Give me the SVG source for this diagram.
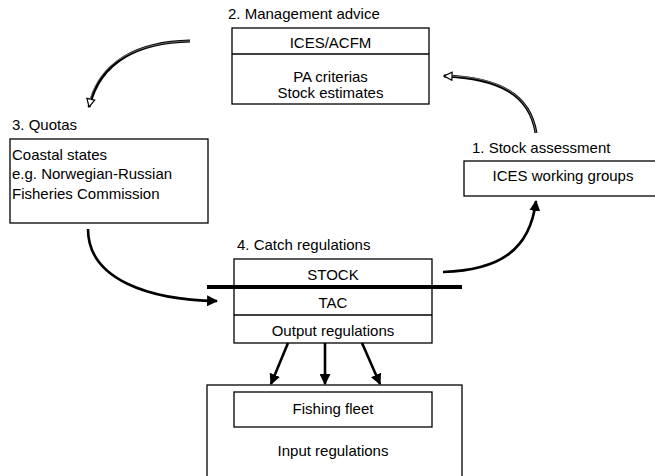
<svg xmlns="http://www.w3.org/2000/svg" width="655" height="476" viewBox="0 0 655 476">
<style>
.box{fill:#fff;stroke:#000;stroke-width:1.3}
.t{font-family:"Liberation Sans",Arial,sans-serif;font-size:15px;fill:#000}
.c{text-anchor:middle}
.curve{fill:none;stroke:#000;stroke-width:3}
.core{fill:none;stroke:#888;stroke-width:0.8}
.bold{fill:none;stroke:#000;stroke-width:2.6}
</style>
<defs>
<marker id="filled" markerUnits="userSpaceOnUse" viewBox="0 0 10 10" refX="9" refY="5" markerWidth="11" markerHeight="11" orient="auto">
<path d="M0,0 L10,5 L0,10 z" fill="#000"/>
</marker>
<marker id="open" markerUnits="userSpaceOnUse" viewBox="0 0 10 10" refX="9" refY="5" markerWidth="10" markerHeight="10" orient="auto">
<path d="M1,1 L9,5 L1,9 z" fill="#fff" stroke="#000" stroke-width="1.2"/>
</marker>
</defs>
<rect width="655" height="476" fill="#fff"/>

<g id="management">
<text class="t" x="228" y="19">2. Management advice</text>
<rect class="box" x="232" y="28" width="197" height="76"/>
<line x1="232" y1="54" x2="429" y2="54" stroke="#000" stroke-width="1.3"/>
<text class="t c" x="330.5" y="48">ICES/ACFM</text>
<text class="t c" x="330.5" y="82">PA criterias</text>
<text class="t c" x="330.5" y="98">Stock estimates</text>
</g>

<g id="quotas">
<text class="t" x="12" y="130">3. Quotas</text>
<rect class="box" x="10" y="139" width="198" height="84"/>
<text class="t" x="12" y="160">Coastal states</text>
<text class="t" x="12" y="179">e.g. Norwegian-Russian</text>
<text class="t" x="12" y="199">Fisheries Commission</text>
</g>

<g id="assessment">
<text class="t" x="472" y="153">1. Stock assessment</text>
<rect class="box" x="464" y="161" width="200" height="35"/>
<text class="t c" x="563" y="181">ICES working groups</text>
</g>

<g id="catch">
<text class="t" x="237" y="250">4. Catch regulations</text>
<rect class="box" x="234" y="259" width="198" height="84"/>
<line x1="234" y1="315" x2="432" y2="315" stroke="#000" stroke-width="1.3"/>
<text class="t c" x="333" y="280">STOCK</text>
<text class="t c" x="333" y="308">TAC</text>
<text class="t c" x="333" y="336">Output regulations</text>
<line x1="207" y1="287" x2="462" y2="287" stroke="#000" stroke-width="4"/>
</g>

<g id="fleet">
<rect class="box" x="207" y="385" width="255" height="100"/>
<rect class="box" x="234" y="392" width="198" height="35"/>
<text class="t c" x="333" y="414">Fishing fleet</text>
<text class="t c" x="333" y="456">Input regulations</text>
</g>

<g id="connectors">
<path class="curve" d="M190 41 C140 42 100 60 89 107" marker-end="url(#open)"/>
<path class="core" d="M190 41 C140 42 100 60 90 100"/>
<path class="curve" d="M536 133 C530 95 500 78 444 76" marker-end="url(#open)"/>
<path class="core" d="M536 133 C530 95 500 78 452 76"/>
<path class="bold" d="M88 229 C88 280 150 300 217 301" marker-end="url(#filled)"/>
<path class="bold" d="M443 272 C500 270 530 250 536 201" marker-end="url(#filled)"/>
<line class="bold" x1="288" y1="343" x2="271" y2="384" marker-end="url(#filled)"/>
<line class="bold" x1="325" y1="343" x2="325" y2="384" marker-end="url(#filled)"/>
<line class="bold" x1="362" y1="343" x2="380" y2="384" marker-end="url(#filled)"/>
</g>
</svg>
